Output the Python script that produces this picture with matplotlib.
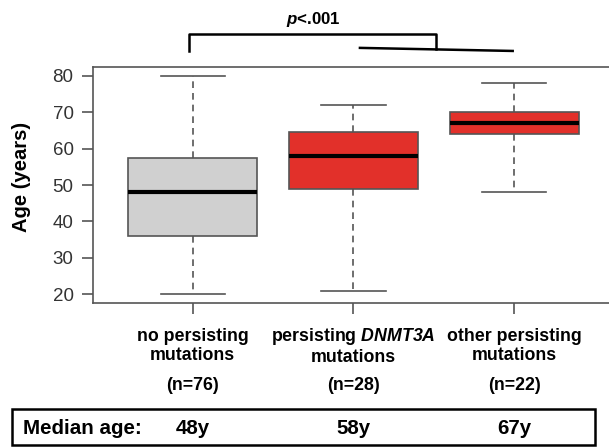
import matplotlib
matplotlib.use("Agg")
import matplotlib.pyplot as plt
import matplotlib.transforms as mtransforms
from matplotlib.patches import Rectangle
from matplotlib.lines import Line2D

plt.rcParams["font.family"] = ["Liberation Sans", "DejaVu Sans"]
plt.rcParams["mathtext.fontset"] = "custom"
plt.rcParams["mathtext.bfit"] = "Liberation Sans:italic:bold"
plt.rcParams["mathtext.it"] = "Liberation Sans:italic:bold"

# ---- data ----
groups = ["no persisting\nmutations",
          "persisting $\\mathbfit{DNMT3A}$\nmutations",
          "other persisting\nmutations"]
n_labels = ["(n=76)", "(n=28)", "(n=22)"]
whisker_lo = [20, 21, 48]
q1 = [36, 49, 64]
medians = [48, 58, 67]
q3 = [57.5, 64.5, 70]
whisker_hi = [80, 72, 78]
median_text = ["48y", "58y", "67y"]
box_colors = ["#d0d0d0", "#e2302a", "#e2302a"]
yticks = [20, 30, 40, 50, 60, 70, 80]

EDGE = "#555555"
W, H = 609, 447

fig = plt.figure(figsize=(W / 100, H / 100), dpi=100)
ax = fig.add_axes([93 / W, 1 - 303 / H, 521 / W, 236 / H])

stats = []
for i in range(len(groups)):
    stats.append(dict(whislo=whisker_lo[i], q1=q1[i], med=medians[i],
                      q3=q3[i], whishi=whisker_hi[i], fliers=[]))

bp = ax.bxp(stats, positions=[1, 2, 3], widths=0.8, capwidths=0.4,
            patch_artist=True, showfliers=False,
            boxprops=dict(edgecolor=EDGE, linewidth=1.2),
            medianprops=dict(color="black", linewidth=3, solid_capstyle="butt"),
            whiskerprops=dict(color=EDGE, linewidth=1.2, linestyle=(0, (4, 3))),
            capprops=dict(color=EDGE, linewidth=1.2))
for patch, c in zip(bp["boxes"], box_colors):
    patch.set_facecolor(c)

ax.set_xlim(0.38, 3.62)
ax.set_ylim(17.6, 82.4)
ax.set_yticks(yticks)
ax.set_xticks([1, 2, 3])
ax.set_xticklabels([])
ax.tick_params(axis="both", length=8, width=1.2, color=EDGE)
ax.tick_params(axis="y", labelsize=13.5, labelcolor="#333333", pad=6)
for s in ["left", "bottom", "top"]:
    ax.spines[s].set_color(EDGE)
    ax.spines[s].set_linewidth(1.2)
ax.spines["right"].set_visible(False)
fig.text(22 / W, 1 - 177 / H, "Age (years)", rotation=90, ha="center",
         va="center", fontsize=14.5, fontweight="bold")

# category labels below the axis (x in data, y in figure)
xf = mtransforms.blended_transform_factory(ax.transData, fig.transFigure)
for i, (g, n) in enumerate(zip(groups, n_labels)):
    ax.text(i + 1, 1 - 346 / H, g, transform=xf, ha="center", va="center",
            fontsize=12.8, fontweight="bold", linespacing=1.2, clip_on=False)
    ax.text(i + 1, 1 - 386 / H, n, transform=xf, ha="center", va="center",
            fontsize=12.8, fontweight="bold", clip_on=False)

# significance bracket
xt = ax.get_xaxis_transform()
lw = 1.8
ax.add_line(Line2D([0.98, 0.98, 2.51, 2.51], [1.068, 1.140, 1.140, 1.076],
                   transform=xt, color="black", linewidth=lw, clip_on=False))
ax.add_line(Line2D([2.04, 2.99], [1.081, 1.068],
                   transform=xt, color="black", linewidth=lw, clip_on=False))
ax.text(1.75, 1.20, "$\\mathbfit{p}$<.001", transform=xt, ha="center",
        va="center", fontsize=12.2, fontweight="bold", clip_on=False)

# median age box
fig.patches.append(Rectangle((12 / W, 2 / H), 583 / W, 36 / H,
                             transform=fig.transFigure, fill=False,
                             edgecolor="black", linewidth=1.8))
fig.text(23 / W, 1 - 428 / H, "Median age:", ha="left", va="center",
         fontsize=14.8, fontweight="bold")
for i, t in enumerate(median_text):
    ax.text(i + 1, 1 - 428 / H, t, transform=xf, ha="center", va="center",
            fontsize=14.8, fontweight="bold", clip_on=False)

fig.savefig("out.png", dpi=100)
